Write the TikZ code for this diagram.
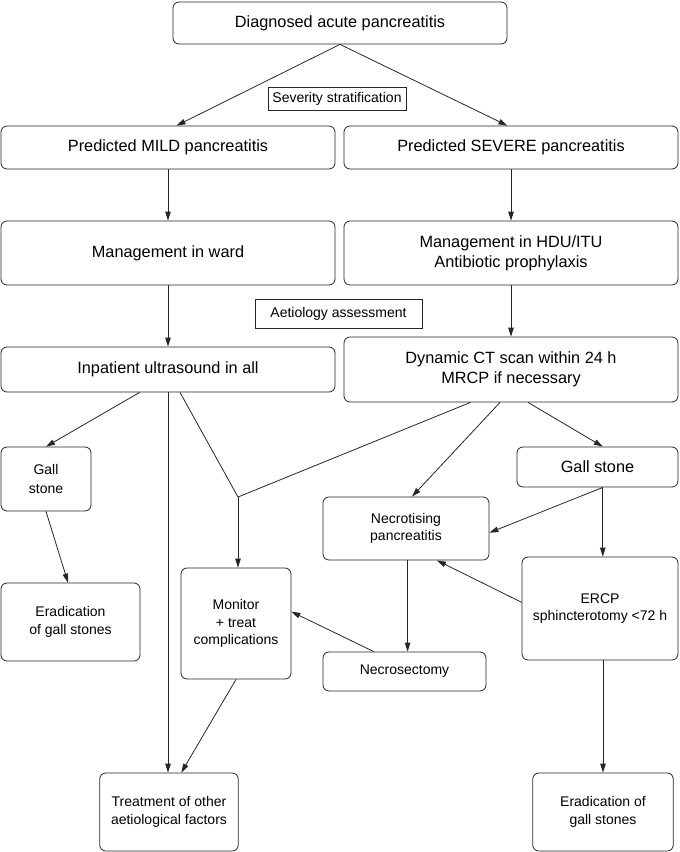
\documentclass[tikz,border=0pt]{standalone}
\usepackage{fontspec}
\setmainfont{Liberation Sans}
\usetikzlibrary{arrows.meta}
\begin{document}
\begin{tikzpicture}[x=1pt,y=-1pt,
  box/.style={draw=black!85, line width=0.8pt, rounded corners=6pt, align=center, inner sep=0pt, font=\fontsize{16.3}{20}\selectfont},
  sbox/.style={box, font=\fontsize{14}{17.6}\selectfont},
  tagbox/.style={draw=black!85, line width=0.7pt, inner sep=0pt, align=center, font=\fontsize{14}{17}\selectfont},
  arr/.style={draw=black!85, line width=0.8pt, -{Triangle[length=9pt,width=5.5pt]}},
  ln/.style={draw=black!85, line width=0.8pt}]
\useasboundingbox (0,0) rectangle (680,852);

% nodes
\node[box, minimum width=334pt, minimum height=42pt] (top) at (340,23) {Diagnosed acute pancreatitis};
\node[tagbox, minimum width=138pt, minimum height=23pt] (sev) at (337,98.5) {Severity stratification};
\node[box, minimum width=334pt, minimum height=43pt] (mild) at (168,147.5) {Predicted MILD pancreatitis};
\node[box, minimum width=334pt, minimum height=43pt] (severe) at (511,147.5) {Predicted SEVERE pancreatitis};
\node[box, minimum width=334pt, minimum height=64pt] (ward) at (168,253) {Management in ward};
\node[box, minimum width=334pt, minimum height=64pt] (hdu) at (511,253) {Management in HDU/ITU\\Antibiotic prophylaxis};
\node[tagbox, minimum width=167pt, minimum height=29pt] (aet) at (338.5,313.5) {Aetiology assessment};
\node[box, minimum width=334pt, minimum height=45pt] (us) at (168,369.5) {Inpatient ultrasound in all};
\node[box, minimum width=334pt, minimum height=65pt] (ct) at (511,369.5) {Dynamic CT scan within 24 h\\MRCP if necessary};
\node[sbox, minimum width=90pt, minimum height=64pt, font=\fontsize{14}{19}\selectfont] (gallL) at (46,479) {Gall\\stone};
\node[box, minimum width=161pt, minimum height=40pt] (gallR) at (597.5,467) {Gall stone};
\node[sbox, minimum width=166pt, minimum height=63pt] (necro) at (406,528.5) {Necrotising\\pancreatitis};
\node[sbox, minimum width=156pt, minimum height=103pt] (ercp) at (600,608.5) {ERCP\\sphincterotomy <72 h};
\node[sbox, minimum width=139pt, minimum height=78pt] (erL) at (70.5,622) {Eradication\\of gall stones};
\node[sbox, minimum width=110pt, minimum height=111pt] (mon) at (236,623.5) {Monitor\\+ treat\\complications};
\node[sbox, minimum width=163pt, minimum height=39pt] (necs) at (404.5,671.5) {Necrosectomy};
\node[sbox, minimum width=138.5pt, minimum height=78pt] (treat) at (169,812) {Treatment of other\\aetiological factors};
\node[sbox, minimum width=140.5pt, minimum height=78pt] (erR) at (603,812) {Eradication of\\gall stones};

\coordinate (J) at (238,497);

% connectors
\draw[arr] (top.south) -- ([xshift=8.5pt]mild.north);
\draw[arr] (top.south) -- ([xshift=-3.6pt]severe.north);
\draw[arr] (mild.south) -- (ward.north);
\draw[arr] (severe.south) -- (hdu.north);
\draw[arr] (ward.south) -- (us.north);
\draw[arr] (hdu.south) -- (ct.north);
\draw[arr] ([xshift=-28.4pt]us.south) -- (gallL.north);
\draw[arr] (us.south) -- (us.south |- treat.north);
\draw[ln] ([xshift=12pt]us.south) -- (J);
\draw[ln] ([xshift=-40.5pt]ct.south) -- (J);
\draw[arr] (J) -- (J |- mon.north);
\draw[arr] ([xshift=-11pt]ct.south) -- ([xshift=6pt]necro.north);
\draw[arr] ([xshift=17pt]ct.south) -- ([xshift=5.3pt]gallR.north);
\draw[arr] ([xshift=5.3pt]gallR.south) -- ([yshift=-4.2pt]necro.east);
\draw[arr] ([xshift=5.3pt]gallR.south) -- ([xshift=5.3pt]gallR.south |- ercp.north);
\draw[arr] ([yshift=6.2pt]ercp.west) -- ([xshift=31pt]necro.south);
\draw[arr] ([xshift=1.6pt]necro.south) -- ([xshift=1.6pt]necro.south |- necs.north);
\draw[arr] ([xshift=-30.7pt]necs.north) -- ([yshift=11.8pt]mon.east);
\draw[arr] (mon.south) -- ([xshift=12.3pt]treat.north);
\draw[arr] (gallL.south) -- ([xshift=-2.5pt]erL.north);
\draw[arr] (erR.north |- ercp.south) -- (erR.north);
\end{tikzpicture}
\end{document}
